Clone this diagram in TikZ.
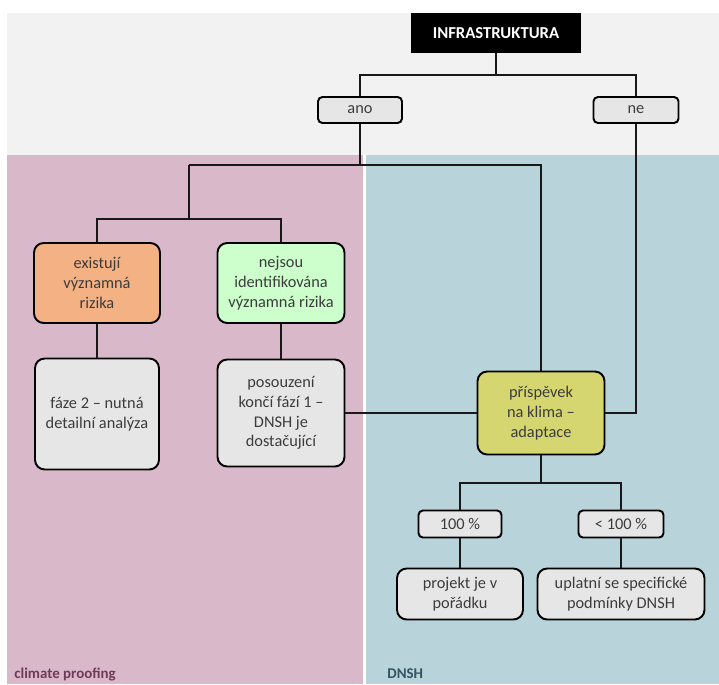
\documentclass[tikz,border=0pt]{standalone}
\usepackage{fontspec}
\setmainfont{Carlito}
\usepackage{tikz}
\definecolor{topgray}{RGB}{242,242,242}
\definecolor{pinkbg}{RGB}{217,184,201}
\definecolor{bluebg}{RGB}{185,211,219}
\definecolor{boxgray}{RGB}{231,230,230}
\definecolor{riskorange}{RGB}{244,177,131}
\definecolor{safegreen}{RGB}{204,255,204}
\definecolor{climyellow}{RGB}{214,214,112}
\definecolor{txtgray}{RGB}{60,60,60}
\definecolor{cplabel}{RGB}{112,58,90}
\definecolor{dnshlabel}{RGB}{48,84,96}

\begin{document}
\begin{tikzpicture} [x=0.02cm, y=-0.02cm,
  box/.style = {draw, line width=1.1pt, rounded corners=5.5pt, align=center, fill=boxgray, text=txtgray, inner sep=1pt, font=\fontsize{9.3}{11.3}\selectfont},
  tag/.style = {box, rounded corners=2.5pt},
  link/.style = {line width=1.1pt, draw=black!90}]
\useasboundingbox (0,0) rectangle (719,684);
\fill[topgray] (7,13) rectangle (719,155);
\fill[pinkbg] (7,155) rectangle (363,684);
\fill[bluebg] (366,155) rectangle (719,684);
\node[fill=black, text=white, font=\fontsize{9.5}{11}\selectfont\bfseries, minimum width=3.4cm, minimum height=0.8cm](infra) at (496,33){INFRASTRUKTURA};
\node[tag, minimum width=1.68cm, minimum height=0.52cm](ano) at (360,110){ano};
\node[tag, minimum width=1.7cm, minimum height=0.52cm](ne) at (636,110){ne};
\node[box, fill=riskorange, minimum width=2.52cm, minimum height=1.6cm](rizika) at (97,283){existují\\významná\\rizika};
\node[box, fill=safegreen, minimum width=2.54cm, minimum height=1.6cm](nerizika) at (281,283){nejsou\\identifikována\\významná rizika};
\node[box, minimum width=2.48cm, minimum height=2.22cm](faze) at (97,414){fáze 2 – nutná\\detailní analýza};
\node[box, minimum width=2.54cm, minimum height=2.14cm](konec) at (281,413){posouzení\\končí fází 1 –\\DNSH je\\dostačující};
\node[box, fill=climyellow, minimum width=2.54cm, minimum height=1.66cm](prispevek) at (541,413){příspěvek\\na klima –\\adaptace};
\node[tag, minimum width=1.66cm, minimum height=0.54cm](sto) at (460,524){100 \%};
\node[tag, minimum width=1.7cm, minimum height=0.54cm](mene) at (621,524){< 100 \%};
\node[box, minimum width=2.52cm, minimum height=1.02cm](ok) at (460,594){projekt je v\\pořádku};
\node[box, minimum width=3.34cm, minimum height=1.02cm](podm) at (621,594){uplatní se specifické\\podmínky DNSH};
\node[anchor=base west, text=cplabel, font=\fontsize{8.5}{10}\selectfont\bfseries, inner sep=0pt](cp) at (14,678){climate proofing};
\node[anchor=base west, text=dnshlabel, font=\fontsize{8.5}{10}\selectfont\bfseries, inner sep=0pt](dn) at (387,678){DNSH};
\coordinate (j1) at (496,75);
\coordinate (j2) at (360,165);
\coordinate (j3) at (189,219);
\coordinate (j4) at (541,483);
\draw[link] (infra.south) -- (j1) -| (ano.north);
\draw[link] (j1) -| (ne.north);
\draw[link] (ano.south) -- (j2);
\draw[link] (j3 |- j2) -- (j2) -| (prispevek.north);
\draw[link] (j3 |- j2) -- (j3);
\draw[link] (rizika.north) |- (j3) -| (nerizika.north);
\draw[link] (rizika) -- (faze);
\draw[link] (nerizika) -- (konec);
\draw[link] (konec.east) -- (prispevek.west);
\draw[link] (ne.south) |- (prispevek.east);
\draw[link] (prispevek.south) -- (j4);
\draw[link] (sto.north) |- (j4) -| (mene.north);
\draw[link] (sto) -- (ok);
\draw[link] (mene) -- (podm);
\end{tikzpicture}
\end{document}
